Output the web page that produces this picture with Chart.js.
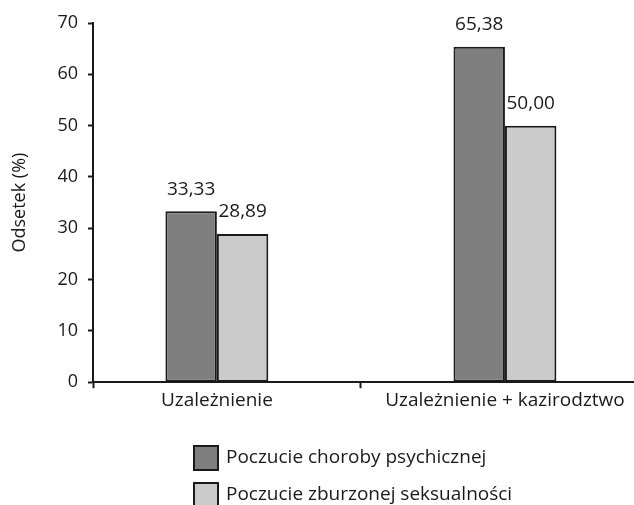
<!doctype html>
<html lang="pl">
  <head>
    <meta charset="utf-8">
    <title>Odsetek (%)</title>
    <style>
      * { margin: 0; padding: 0; }
      body { background: #fff; width: 634px; height: 505px; overflow: hidden; }
    </style>
  </head>
  <body>
    <canvas id="myChart" width="634" height="505"></canvas>
    <script src="https://cdn.jsdelivr.net/npm/chart.js/dist/chart.umd.min.js"></script>
    <script>
    // data
    const categories = ['Uzależnienie', 'Uzależnienie + kazirodztwo'];
    const seriesNames = ['Poczucie choroby psychicznej', 'Poczucie zburzonej seksualności'];
    const illness = [33.33, 65.38];
    const sexuality = [28.89, 50.00];
    const yTicks = [0, 10, 20, 30, 40, 50, 60, 70];

    const FONT = '"Open Sans", sans-serif';
    const INK = '#1a1a1a';

    const toPoints = (arr) => arr.map((v, i) => ({ x: i, y: v }));
    const fmt = (v) => v.toFixed(2).replace('.', ',');

    const data = {
      datasets: [
        {
          label: seriesNames[0],
          data: toPoints(illness),
          backgroundColor: '#7f7f7f',
          borderColor: INK,
          borderWidth: 2,
          borderSkipped: false,
        },
        {
          label: seriesNames[1],
          data: toPoints(sexuality),
          backgroundColor: '#cbcbcb',
          borderColor: INK,
          borderWidth: 2,
          borderSkipped: false,
        }
      ]
    };

    // value labels above the bars
    const valueLabels = {
      id: 'valueLabels',
      afterDatasetsDraw(chart) {
        const { ctx } = chart;
        ctx.save();
        ctx.font = '19px ' + FONT;
        ctx.fillStyle = INK;
        ctx.textAlign = 'center';
        ctx.textBaseline = 'middle';
        chart.data.datasets.forEach((ds, di) => {
          chart.getDatasetMeta(di).data.forEach((bar, i) => {
            ctx.fillText(fmt(ds.data[i].y), bar.x, bar.y - 22);
          });
        });
        ctx.restore();
      }
    };

    // stacked legend under the axis
    const boxLegend = {
      id: 'boxLegend',
      afterDraw(chart) {
        const { ctx } = chart;
        ctx.save();
        ctx.font = '19px ' + FONT;
        ctx.textBaseline = 'middle';
        chart.data.datasets.forEach((ds, i) => {
          const y = 446 + i * 37;
          ctx.fillStyle = ds.backgroundColor;
          ctx.fillRect(194, y, 24, 24);
          ctx.lineWidth = 2;
          ctx.strokeStyle = INK;
          ctx.strokeRect(194, y, 24, 24);
          ctx.fillStyle = INK;
          ctx.fillText(ds.label, 226, y + 12);
        });
        ctx.restore();
      }
    };

    const config = {
      type: 'bar',
      data: data,
      options: {
        responsive: false,
        animation: false,
        barPercentage: 1,
        categoryPercentage: 103 / 124,
        layout: { padding: { top: 23, right: 0, bottom: 92, left: 0 } },
        scales: {
          x: {
            type: 'linear',
            min: -0.43,
            max: 1.448,
            offset: false,
            afterBuildTicks: (scale) => {
              scale.ticks = [-0.43, 0, 0.5, 1].map(v => ({ value: v }));
            },
            grid: {
              offset: false,
              drawOnChartArea: false,
              tickLength: 6,
              tickWidth: 2,
              tickColor: (c) => (c.tick && (c.tick.value === 0.5 || c.tick.value < 0)) ? INK : 'rgba(0,0,0,0)',
            },
            border: { color: INK, width: 2 },
            ticks: {
              autoSkip: false,
              maxRotation: 0,
              padding: 1,
              color: INK,
              font: { family: FONT, size: 19 },
              callback: (v) => (v === 0 || v === 1) ? categories[v] : '',
            }
          },
          y: {
            min: 0,
            max: 70,
            afterBuildTicks: (scale) => {
              scale.ticks = yTicks.map(v => ({ value: v }));
            },
            afterFit: (scale) => { scale.width = 93; },
            grid: {
              drawOnChartArea: false,
              tickLength: 5,
              tickWidth: 2,
              tickColor: INK,
            },
            border: { color: INK, width: 2 },
            ticks: {
              padding: 10,
              color: INK,
              font: { family: FONT, size: 18 },
            },
            title: {
              display: true,
              text: 'Odsetek (%)',
              color: INK,
              font: { family: FONT, size: 18 },
              padding: { top: 9, bottom: 0 },
            }
          }
        },
        plugins: {
          legend: { display: false },
          tooltip: { enabled: false }
        }
      },
      plugins: [valueLabels, boxLegend]
    };

    const myChart = new Chart(document.getElementById('myChart'), config);
    </script>
  </body>
</html>
